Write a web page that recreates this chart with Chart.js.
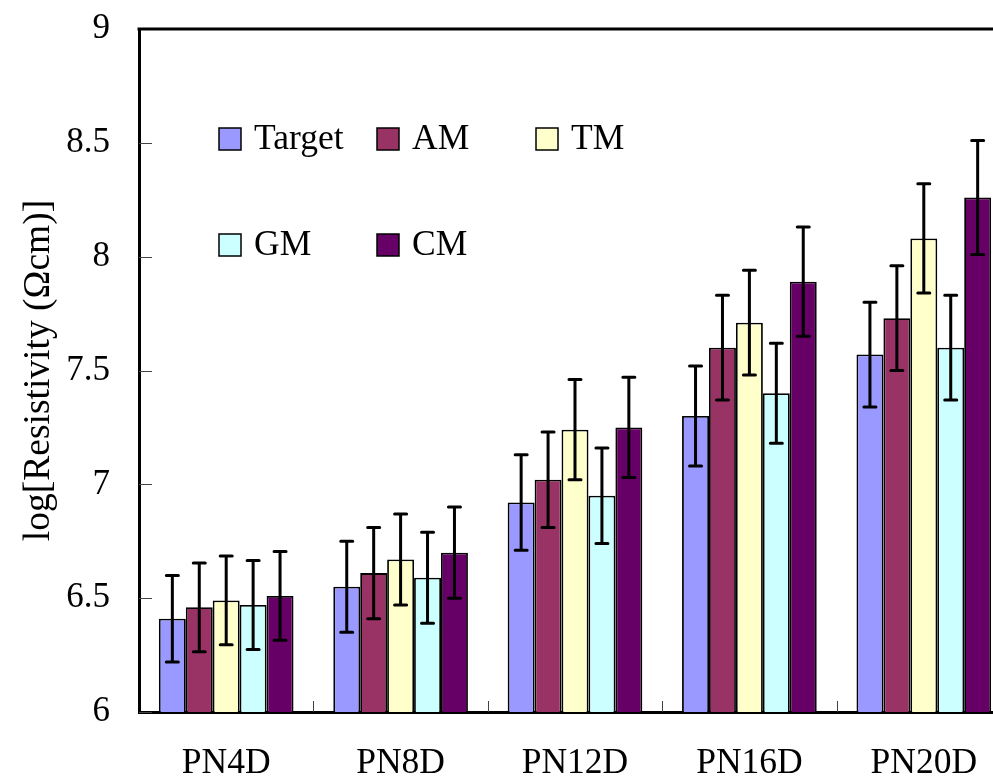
<!DOCTYPE html>
<html>
<head>
<meta charset="utf-8">
<script src="https://cdn.jsdelivr.net/npm/chart.js@4/dist/chart.umd.min.js"></script>
<style>
  html, body { margin: 0; padding: 0; background: #fff; overflow: hidden; }
  #wrap { position: relative; width: 1011px; height: 780px; }
</style>
</head>
<body>
<div id="wrap"><canvas id="c"></canvas></div>
<script>
const categories = ['PN4D', 'PN8D', 'PN12D', 'PN16D', 'PN20D'];
const seriesNames = ['Target', 'AM', 'TM', 'GM', 'CM'];
const targetVals = [6.41, 6.55, 6.92, 7.30, 7.57];
const amVals     = [6.46, 6.61, 7.02, 7.60, 7.73];
const tmVals     = [6.49, 6.67, 7.24, 7.71, 8.08];
const gmVals     = [6.47, 6.59, 6.95, 7.40, 7.60];
const cmVals     = [6.51, 6.70, 7.25, 7.89, 8.26];
const targetErr = [0.19, 0.20, 0.21, 0.22, 0.23];
const amErr     = [0.195, 0.20, 0.21, 0.23, 0.23];
const tmErr     = [0.195, 0.20, 0.22, 0.23, 0.24];
const gmErr     = [0.195, 0.20, 0.21, 0.22, 0.23];
const cmErr     = [0.195, 0.20, 0.22, 0.24, 0.25];
const yTicks = [6, 6.5, 7, 7.5, 8, 8.5, 9];
const yTickLabels = ['6', '6.5', '7', '7.5', '8', '8.5', '9'];

const colors = ['#9999FF', '#993366', '#FFFFCC', '#CCFFFF', '#660066'];
const allVals = [targetVals, amVals, tmVals, gmVals, cmVals];
const allErr = [targetErr, amErr, tmErr, gmErr, cmErr];
const FONT = "'Liberation Serif', 'Times New Roman', serif";

const datasets = seriesNames.map((name, i) => ({
  label: name,
  data: allVals[i],
  errors: allErr[i],
  backgroundColor: colors[i],
  borderColor: '#000',
  borderWidth: 1.8,
  categoryPercentage: 0.772,
  barPercentage: 1.0
}));

const decorPlugin = {
  id: 'decor',
  beforeDatasetsDraw(chart) {
    const ctx = chart.ctx, ca = chart.chartArea;
    const xs = chart.scales.x, ys = chart.scales.y;
    ctx.save();
    ctx.strokeStyle = '#444';
    ctx.lineWidth = 1;
    yTicks.forEach(v => {
      const y = Math.round(ys.getPixelForValue(v)) + 0.5;
      ctx.beginPath(); ctx.moveTo(ca.left, y); ctx.lineTo(ca.left + 13, y); ctx.stroke();
    });
    const n = categories.length;
    const band = (ca.right - ca.left) / n;
    for (let i = 1; i < n; i++) {
      const x = Math.round(xs.getPixelForValue(i) - band / 2) + 0.5;
      ctx.beginPath(); ctx.moveTo(x, ca.bottom); ctx.lineTo(x, ca.bottom - 11); ctx.stroke();
    }
    ctx.restore();
  },
  afterDatasetsDraw(chart) {
    const ctx = chart.ctx, ys = chart.scales.y;
    ctx.save();
    ctx.strokeStyle = '#000';
    ctx.lineWidth = 3;
    ctx.lineCap = 'round';
    chart.data.datasets.forEach((ds, di) => {
      const meta = chart.getDatasetMeta(di);
      meta.data.forEach((bar, j) => {
        const v = ds.data[j], e = ds.errors[j];
        const yTop = ys.getPixelForValue(v + e);
        const yBot = ys.getPixelForValue(v - e);
        const x = bar.x;
        ctx.beginPath();
        ctx.moveTo(x, yTop); ctx.lineTo(x, yBot);
        ctx.moveTo(x - 6, yTop); ctx.lineTo(x + 6, yTop);
        ctx.moveTo(x - 6, yBot); ctx.lineTo(x + 6, yBot);
        ctx.stroke();
      });
    });
    ctx.restore();
  },
  afterDraw(chart) {
    const ctx = chart.ctx, ca = chart.chartArea;
    ctx.save();
    ctx.strokeStyle = '#000';
    ctx.lineWidth = 3;
    ctx.beginPath();
    ctx.moveTo(ca.left - 1.5, ca.top); ctx.lineTo(ca.right, ca.top);
    ctx.stroke();
    const pos = [[219, 128], [377, 128], [536, 128], [219, 234], [377, 234]];
    ctx.font = '35.5px ' + FONT;
    ctx.textBaseline = 'middle';
    ctx.textAlign = 'left';
    chart.data.datasets.forEach((ds, i) => {
      const [bx, by] = pos[i];
      ctx.fillStyle = ds.backgroundColor;
      ctx.fillRect(bx, by, 22, 22);
      ctx.strokeStyle = '#000';
      ctx.lineWidth = 1.5;
      ctx.strokeRect(bx, by, 22, 22);
      ctx.fillStyle = '#000';
      ctx.fillText(ds.label, bx + 35, by + 12);
    });
    ctx.restore();
  }
};

new Chart(document.getElementById('c'), {
  type: 'bar',
  data: { labels: categories, datasets },
  options: {
    responsive: true,
    maintainAspectRatio: false,
    animation: false,
    layout: { autoPadding: false, padding: { top: 29, left: 0, right: 0, bottom: 0 } },
    plugins: { legend: { display: false }, tooltip: { enabled: false } },
    scales: {
      x: {
        grid: { display: false, drawTicks: false },
        border: { display: true, color: '#000', width: 3 },
        ticks: { color: '#000', font: { family: FONT, size: 35.5 }, padding: 30, maxRotation: 0 },
        afterFit(s) { s.height = 68; }
      },
      y: {
        min: 6, max: 9,
        afterBuildTicks(s) { s.ticks = yTicks.map(v => ({ value: v })); },
        grid: { display: false, drawTicks: false },
        border: { display: true, color: '#000', width: 3 },
        ticks: { color: '#000', font: { family: FONT, size: 35 }, padding: 29,
                 callback: (v, i) => yTickLabels[i] },
        title: { display: true, text: 'log[Resistivity (Ωcm)]', color: '#000',
                 font: { family: FONT, size: 37.5 }, padding: { top: 17, bottom: 0 } },
        afterFit(s) { s.width = 139; s.paddingTop = 0; s.paddingBottom = 0; }
      }
    }
  },
  plugins: [decorPlugin]
});
</script>
</body>
</html>
